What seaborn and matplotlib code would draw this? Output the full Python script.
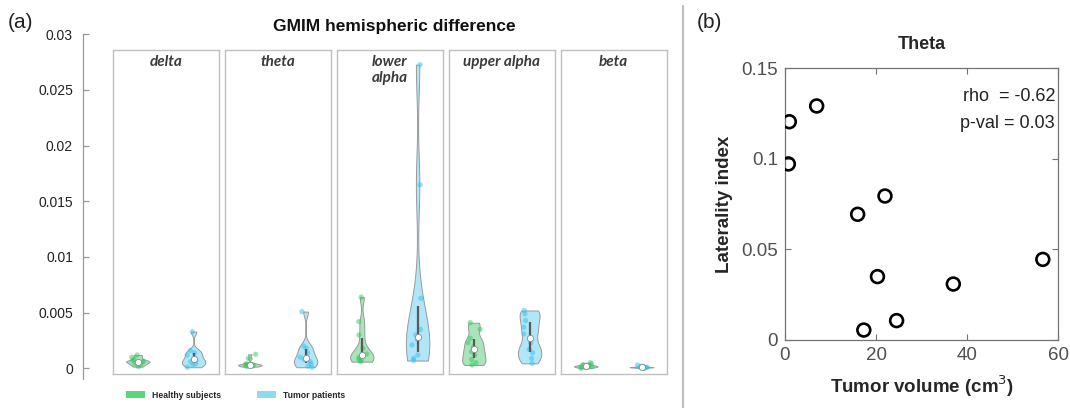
import numpy as np
import pandas as pd
import matplotlib
matplotlib.use("Agg")
import matplotlib.pyplot as plt
from matplotlib.patches import Patch
from matplotlib.lines import Line2D
import seaborn as sns

# ---- data ----
bands = ["delta", "theta", "lower\nalpha", "upper alpha", "beta"]
groups = ["Healthy subjects", "Tumor patients"]

healthy = {
    "delta": [0.00015, 0.0003, 0.0004, 0.0005, 0.0006, 0.0006, 0.0007, 0.0008, 0.001, 0.0012],
    "theta": [0.00015, 0.0002, 0.00025, 0.0003, 0.0003, 0.0003, 0.00035, 0.0004, 0.0009, 0.00126],
    "lower\nalpha": [0.0006, 0.0007, 0.0008, 0.001, 0.0011, 0.0013, 0.0018, 0.003, 0.0042, 0.0064],
    "upper alpha": [0.0003, 0.0005, 0.0008, 0.0012, 0.0015, 0.0019, 0.0023, 0.0027, 0.0035, 0.0041],
    "beta": [0.0, 0.0001, 0.0001, 0.00015, 0.0002, 0.0002, 0.00025, 0.0003, 0.0004, 0.0005],
}
tumor = {
    "delta": [0.0001, 0.0003, 0.0004, 0.0006, 0.0007, 0.0009, 0.0012, 0.0014, 0.0016, 0.0033],
    "theta": [0.0001, 0.0002, 0.0004, 0.0006, 0.0008, 0.001, 0.0014, 0.0018, 0.002, 0.0051],
    "lower\nalpha": [0.0007, 0.0009, 0.0012, 0.0021, 0.0026, 0.003, 0.0035, 0.0063, 0.0165, 0.0273],
    "upper alpha": [0.00045, 0.0009, 0.0014, 0.0017, 0.0023, 0.0031, 0.0037, 0.0043, 0.0049, 0.0052],
    "beta": [0.0, 0.00005, 0.00008, 0.0001, 0.0001, 0.0001, 0.00012, 0.00015, 0.0002, 0.0003],
}
yticks_a = [0, 0.005, 0.01, 0.015, 0.02, 0.025, 0.03]
yticklabels_a = ["0", "0.005", "0.01", "0.015", "0.02", "0.025", "0.03"]

tumor_volume = [0.95, 0.73, 6.95, 15.95, 21.95, 20.3, 17.3, 24.5, 36.95, 56.6]
laterality_index = [0.1205, 0.0972, 0.1292, 0.0694, 0.0795, 0.035, 0.0055, 0.0107, 0.0309, 0.0445]

fill_colors = {"Healthy subjects": "#a9e4bb", "Tumor patients": "#b0e6f8"}
point_colors = {"Healthy subjects": "#34c865", "Tumor patients": "#33c0ee"}
legend_colors = ["#5cd47b", "#8fd9f3"]

sns.set_theme(style="white")
plt.rcParams["font.family"] = ["Liberation Sans", "DejaVu Sans"]
np.random.seed(3)

W, H = 1070, 408
fig = plt.figure(figsize=(W / 100, H / 100), dpi=100)


def fx(px):
    return px / W


def fy(py):
    return 1 - py / H


# ---- (a) left y axis ----
ax0 = fig.add_axes([fx(82.7), fy(379), 0.001, (379 - 34.3) / H])
ax0.set_ylim(-0.00096, 0.03)
ax0.set_yticks(yticks_a)
ax0.set_yticklabels(yticklabels_a, fontsize=10, color="#222222")
ax0.set_xticks([])
for s in ["top", "right", "bottom"]:
    ax0.spines[s].set_visible(False)
ax0.spines["left"].set_color("0.6")
ax0.spines["left"].set_linewidth(0.9)
ax0.tick_params(axis="y", direction="in", length=4, width=0.9, color="0.6", pad=7, left=True)
ax0.patch.set_alpha(0)

rows = []
for b in bands:
    for v in healthy[b]:
        rows.append((b, "Healthy subjects", v))
    for v in tumor[b]:
        rows.append((b, "Tumor patients", v))
df = pd.DataFrame(rows, columns=["band", "group", "value"])

for i, b in enumerate(bands):
    ax = fig.add_axes([fx(112.7 + i * 112), fy(374), 106 / W, (374 - 50) / H])
    sub = df[df["band"] == b]
    sns.violinplot(
        data=sub, x="group", y="value", hue="group", order=groups, hue_order=groups,
        palette=fill_colors, cut=0, density_norm="width", width=0.42, inner=None,
        bw_adjust=0.5, linewidth=0.7, linecolor="0.6", saturation=1, legend=False, ax=ax,
    )
    sns.stripplot(
        data=sub, x="group", y="value", hue="group", order=groups, hue_order=groups,
        palette=point_colors, jitter=0.12, size=3.8, alpha=0.5, linewidth=0,
        legend=False, ax=ax,
    )
    for j, g in enumerate(groups):
        vals = np.array(sub.loc[sub["group"] == g, "value"])
        q1, med, q3 = np.percentile(vals, [25, 50, 75])
        ax.plot([j, j], [q1, q3], color="0.35", lw=1.6, solid_capstyle="butt", zorder=5)
        ax.plot([j], [med], marker="o", ms=4.5, mfc="white", mec="0.55", mew=0.6, zorder=6)
    ax.set_xlim(-0.45, 1.45)
    ax.set_ylim(-0.00051, 0.02862)
    ax.set_xticks([])
    ax.set_yticks([])
    ax.set_xlabel("")
    ax.set_ylabel("")
    for s in ax.spines.values():
        s.set_visible(True)
        s.set_color("0.75")
        s.set_linewidth(1.0)
    ax.text(0.5, 0.985, b, transform=ax.transAxes, ha="center", va="top",
            fontsize=11, fontstyle="italic", fontweight="bold", color="#3a3a3a",
            family=["Lato", "DejaVu Sans"], linespacing=1.2)

fig.text(fx(394), fy(26.7), "GMIM hemispheric difference", ha="center", va="center",
         fontsize=12.5, fontweight="bold", color="#111111")
fig.text(fx(8), fy(23), "(a)", ha="left", va="center", fontsize=15, color="#222222")

handles = [Patch(facecolor=c, edgecolor="none") for c in legend_colors]
fig.legend(handles, groups, loc="center left", bbox_to_anchor=(fx(126), fy(395)),
           ncol=2, frameon=False, borderpad=0, borderaxespad=0,
           handlelength=2.2, handleheight=0.9, handletextpad=0.8, columnspacing=4.2,
           prop={"size": 6.2, "weight": "bold"})

# divider
fig.add_artist(Line2D([fx(683), fx(683)], [0, 0.985], transform=fig.transFigure,
                      color="0.75", lw=1.6))

# ---- (b) scatter ----
axb = fig.add_axes([fx(785), fy(340), (1058.3 - 785) / W, (340 - 68.3) / H])
sns.scatterplot(x=tumor_volume, y=laterality_index, ax=axb, s=85, facecolor="none",
                edgecolor="black", linewidth=1.9, marker="o", zorder=3)
axb.set_xlim(0, 60)
axb.set_ylim(0, 0.15)
axb.set_xticks([0, 20, 40, 60])
axb.set_xticklabels(["0", "20", "40", "60"])
axb.set_yticks([0, 0.05, 0.1, 0.15])
axb.set_yticklabels(["0", "0.05", "0.1", "0.15"])
axb.tick_params(direction="in", length=4, width=0.8, color="0.45", labelsize=13.5,
                labelcolor="#505050", top=True, right=True, bottom=True, left=True, pad=5)
for s in axb.spines.values():
    s.set_color("0.45")
    s.set_linewidth(0.9)
axb.set_title("Theta", fontsize=13, fontweight="bold", pad=14)
axb.set_xlabel("Tumor volume (cm$^3$)", fontsize=13.5, fontweight="bold", labelpad=7)
axb.set_ylabel("Laterality index", fontsize=13.5, fontweight="bold", labelpad=6)
axb.text(0.99, 0.895, "rho  = -0.62", transform=axb.transAxes, ha="right", va="center",
         fontsize=13, color="#222222")
axb.text(0.985, 0.795, "p-val = 0.03", transform=axb.transAxes, ha="right", va="center",
         fontsize=13, color="#222222")
fig.text(fx(697), fy(23), "(b)", ha="left", va="center", fontsize=15, color="#222222")

fig.savefig("out.png", dpi=100)
